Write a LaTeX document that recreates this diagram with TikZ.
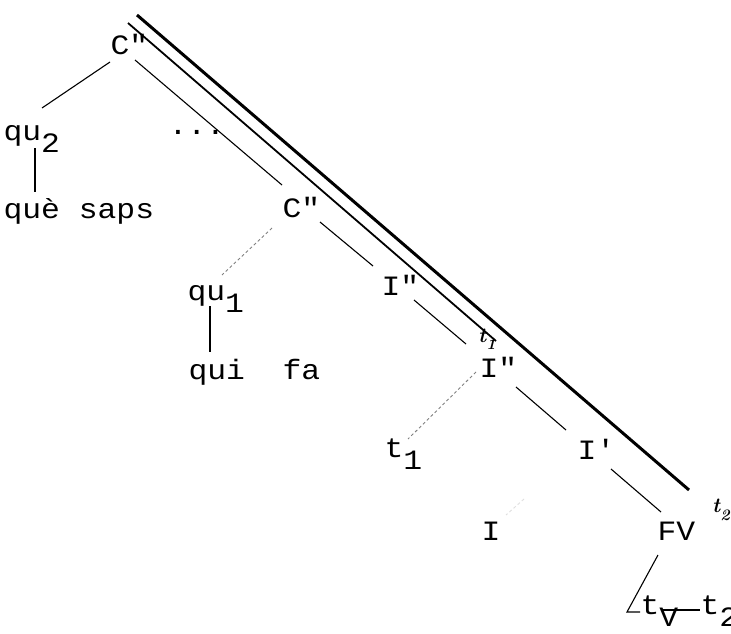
\documentclass[tikz,border=0pt]{standalone}
\usepackage{fontspec}
\newfontfamily\typewriter{Liberation Mono}[FakeStretch=1.12]
\newcommand{\lowsub}[1]{\raisebox{-0.45em}{#1}}
\newcommand{\marksub}[1]{\raisebox{-0.35em}{\fontsize{16}{18}\selectfont #1}}

\begin{document}
\begin{tikzpicture}[x=1pt, y=-1pt, line width=1.1pt,
    lbl/.style={font=\typewriter\fontsize{28}{30}\selectfont, inner sep=0pt, anchor=base west},
    note/.style={font=\fontsize{21}{23}\selectfont\bfseries\itshape, inner sep=0pt},
    trace/.style={gray, line width=0.9pt, dash pattern=on 3pt off 2.5pt}]
    \useasboundingbox (0,0) rectangle (731,634);
    % Labels of the tree
    \node[lbl] (ctop)    at (110,55)  {C"};
    \node[lbl] (qu2)     at (3,140)   {qu\lowsub{2}};
    \node[lbl] (quesaps) at (3,218)   {què saps};
    \node[lbl] (dots)    at (168,134) {...};
    \node[lbl] (c2)      at (282,217) {C"};
    \node[lbl] (qu1)     at (187,300) {qu\lowsub{1}};
    \node[lbl] (quifa)   at (188,379) {qui~~fa};
    \node[lbl] (i1)      at (381,295) {I"};
    \node[lbl] (i2)      at (479,377) {I"};
    \node[lbl] (t1)      at (384,457) {t\lowsub{1}};
    \node[lbl] (i3)      at (577,459) {I'};
    \node[lbl] (iv)      at (481,540) {I};
    \node[lbl] (fv)      at (657,540) {FV};
    \node[lbl] (tv)      at (640,614) {t\lowsub{V}};
    \node[lbl] (t2)      at (700,614) {t\lowsub{2}};
    % Chain marks
    \node[note] (mark1) at (487,339) {t\marksub{1}};
    \node[note] (mark2) at (721,510) {t\marksub{2}};
    % Branches
    \draw ([shift={(0,7)}]ctop.base west) -- ([shift={(39,-32)}]qu2.base west);
    \draw ([shift={(32,8)}]qu2.base west) -- ([shift={(32,-26)}]quesaps.base west);
    \draw ([shift={(25,5)}]ctop.base west) -- ([shift={(0,-32)}]c2.base west);
    \draw[trace] ([shift={(-10,11)}]c2.base west) -- ([shift={(35,-25)}]qu1.base west);
    \draw ([shift={(23,6)}]qu1.base west) -- ([shift={(22,-27)}]quifa.base west);
    \draw ([shift={(38,5)}]c2.base west) -- ([shift={(-8,-29)}]i1.base west);
    \draw ([shift={(33,5)}]i1.base west) -- ([shift={(-13,-33)}]i2.base west);
    \draw[trace] ([shift={(-3,-5)}]i2.base west) -- ([shift={(24,-18)}]t1.base west);
    \draw ([shift={(37,10)}]i2.base west) -- ([shift={(-11,-29)}]i3.base west);
    \draw ([shift={(34,10)}]i3.base west) -- ([shift={(4,-28)}]fv.base west);
    \draw[trace, gray!25] ([shift={(-53,40)}]i3.base west) -- ([shift={(25,-25)}]iv.base west);
    % Bottom of FV
    \coordinate (corner) at (627,612);
    \draw ([shift={(1,15)}]fv.base west) -- (corner) -- ([shift={(0,-2)}]tv.base west);
    \draw ([shift={(21,-4)}]tv.base west) -- ([shift={(0,-4)}]t2.base west);
    % Chains
    \draw[line width=3pt] ([shift={(27,-40)}]ctop.base west) -- ([shift={(-32,-20)}]mark2.center);
    \draw[line width=1.8pt] ([shift={(18,-32)}]ctop.base west) -- ([shift={(9,2)}]mark1.center);
\end{tikzpicture}
\end{document}
